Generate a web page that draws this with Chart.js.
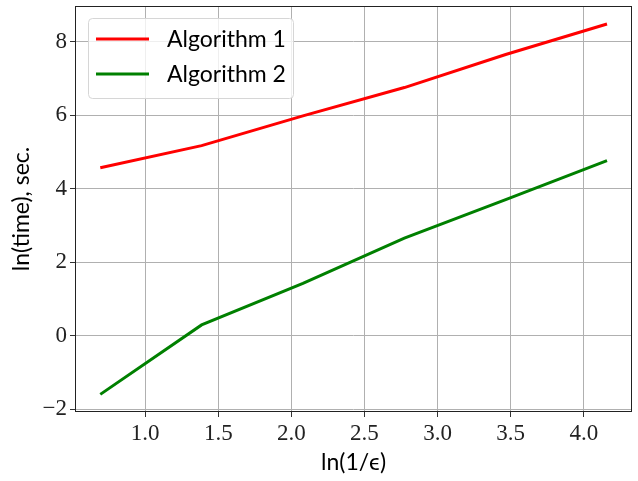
<!DOCTYPE html>
<html>
<head>
<meta charset="utf-8">
<script src="https://cdn.jsdelivr.net/npm/chart.js@4.4.1/dist/chart.umd.min.js"></script>
<style>
    html, body { margin: 0; padding: 0; background: #fff; }
    #wrap { width: 638px; height: 481px; }
</style>
</head>
<body>
<div id="wrap"><canvas id="chart" width="638" height="481"></canvas></div>
<script>
// Data
const xValues = [0.693, 1.386, 2.079, 2.773, 3.466, 4.159];
const alg1 = [4.57, 5.17, 5.98, 6.75, 7.65, 8.48];
const alg2 = [-1.60, 0.29, 1.42, 2.65, 3.70, 4.76];
const seriesNames = ['Algorithm 1', 'Algorithm 2'];
const xTicks = [1.0, 1.5, 2.0, 2.5, 3.0, 3.5, 4.0];
const yTicks = [-2, 0, 2, 4, 6, 8];

const SANS = 'Lato';
const SERIF = 'Liberation Serif';

// Frame around the plot area (matplotlib spines)
const frame = {
    id: 'frame',
    afterDatasetsDraw(chart) {
        const { ctx, chartArea: a } = chart;
        ctx.save();
        ctx.strokeStyle = '#222';
        ctx.lineWidth = 1;
        ctx.strokeRect(a.left + 0.5, a.top + 0.5, a.right - a.left - 1, a.bottom - a.top - 1);
        ctx.restore();
    }
};

// Legend drawn inside the axes with a rounded box
const boxLegend = {
    id: 'boxLegend',
    afterDraw(chart) {
        const { ctx, chartArea: a } = chart;
        const x0 = a.left + 13, y0 = a.top + 12, w = 205, h = 80;
        ctx.save();
        ctx.beginPath();
        ctx.roundRect(x0 + 0.5, y0 + 0.5, w, h, 4);
        ctx.fillStyle = 'rgba(255,255,255,0.8)';
        ctx.fill();
        ctx.strokeStyle = '#d6d6d6';
        ctx.lineWidth = 1;
        ctx.stroke();
        chart.data.datasets.forEach((ds, i) => {
            const y = y0 + 21 + i * 35;
            ctx.beginPath();
            ctx.moveTo(x0 + 8, y);
            ctx.lineTo(x0 + 61, y);
            ctx.strokeStyle = ds.borderColor;
            ctx.lineWidth = 3;
            ctx.stroke();
            ctx.fillStyle = '#000';
            ctx.font = `23px ${SANS}`;
            ctx.textBaseline = 'alphabetic';
            ctx.fillText(ds.label, x0 + 79, y + 8);
        });
        ctx.restore();
    }
};

const toPoints = ys => ys.map((y, i) => ({ x: xValues[i], y: y }));

new Chart(document.getElementById('chart'), {
    type: 'line',
    data: {
        datasets: [
            { label: seriesNames[0], data: toPoints(alg1), borderColor: '#ff0000', borderWidth: 3, pointRadius: 0, tension: 0, fill: false },
            { label: seriesNames[1], data: toPoints(alg2), borderColor: '#008000', borderWidth: 3, pointRadius: 0, tension: 0, fill: false }
        ]
    },
    options: {
        responsive: false,
        animation: false,
        devicePixelRatio: 1,
        layout: { padding: { top: 6, right: 6, left: 0, bottom: 0 } },
        plugins: {
            legend: { display: false },
            tooltip: { enabled: false }
        },
        scales: {
            x: {
                type: 'linear',
                min: 0.52,
                max: 4.33,
                afterBuildTicks: s => { s.ticks = xTicks.map(v => ({ value: v })); },
                afterFit: s => { s.height = 69; s.paddingLeft = 0; s.paddingRight = 0; },
                border: { display: false },
                grid: { color: '#b0b0b0', lineWidth: 1, tickLength: 5, tickColor: '#333' },
                ticks: {
                    font: { family: SERIF, size: 23 },
                    color: '#222',
                    padding: 3,
                    maxRotation: 0,
                    callback: v => v.toFixed(1)
                },
                title: {
                    display: true,
                    text: 'ln(1/ϵ)',
                    font: { family: SANS, size: 23 },
                    color: '#000',
                    padding: { top: 0, bottom: 5 }
                }
            },
            y: {
                type: 'linear',
                min: -2.08,
                max: 8.97,
                afterBuildTicks: s => { s.ticks = yTicks.map(v => ({ value: v })); },
                afterFit: s => { s.width = 75; s.paddingTop = 0; s.paddingBottom = 0; },
                border: { display: false },
                grid: { color: '#b0b0b0', lineWidth: 1, tickLength: 5, tickColor: '#333' },
                ticks: {
                    font: { family: SERIF, size: 23 },
                    color: '#222',
                    padding: 3,
                    callback: v => (v < 0 ? '\u2212' + Math.abs(v) : String(v))
                },
                title: {
                    display: true,
                    text: 'ln(time), sec.',
                    font: { family: SANS, size: 23 },
                    color: '#000',
                    padding: { top: 8, bottom: 0 }
                }
            }
        }
    },
    plugins: [frame, boxLegend]
});
</script>
</body>
</html>
